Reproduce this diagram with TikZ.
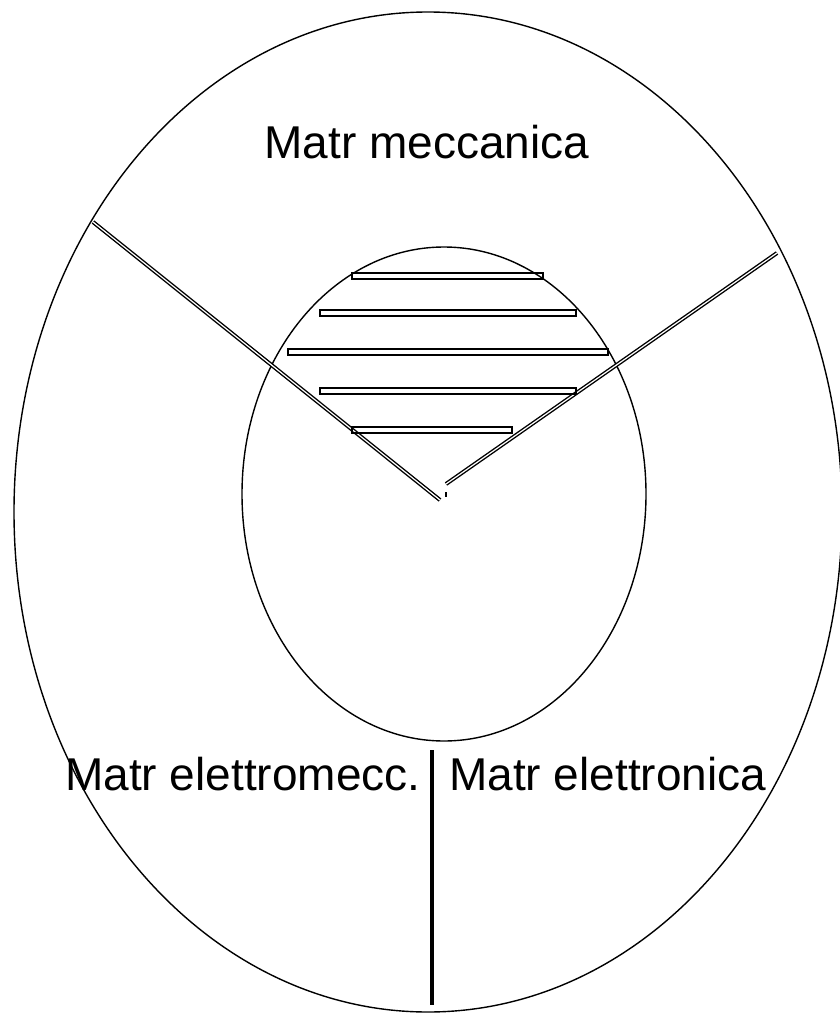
\documentclass[tikz,border=0pt]{standalone}
\usepackage{fontspec}
\setmainfont{Liberation Sans}
\begin{document}
\begin{tikzpicture}[x=1pt,y=-1pt,
  outline/.style={line width=1.4pt},
  dbl/.style={double, double distance=1.2pt, line width=1.4pt},
  hatchbar/.style={line width=2pt},
  divider/.style={line width=3.5pt},
  lbl/.style={inner sep=0pt, font=\fontsize{46}{50}\selectfont}]
\useasboundingbox (0,0) rectangle (839,1014);
% outer egg and inner region
\draw[outline] (428,512) ellipse [x radius=414pt, y radius=500pt];
\draw[outline] (444,494) ellipse [x radius=202pt, y radius=247pt];
% named end points of the separators
\coordinate (lo) at (93,222);
\coordinate (li) at (440,500);
\coordinate (ro) at (777,253);
\coordinate (ri) at (446,484);
\coordinate (vt) at (432,750);
\coordinate (vb) at (432,1005);
\coordinate (tk1) at (446,492);
\coordinate (tk2) at (446,497);
\draw[dbl] (lo) -- (li);
\draw[dbl] (ro) -- (ri);
\draw[line width=1.5pt] (tk1) -- (tk2);
\draw[divider] (vt) -- (vb);
% hatching bars
\draw[hatchbar] (352,273) rectangle (543,278.5);
\draw[hatchbar] (320,310) rectangle (576,315.5);
\draw[hatchbar] (288,349) rectangle (608,354.5);
\draw[hatchbar] (320,388) rectangle (576,393.5);
\draw[hatchbar] (352,427) rectangle (512,432.5);
% labels
\node[lbl, anchor=base] (mecc) at (427,158) {Matr meccanica};
\node[lbl, anchor=base west] (elmecc) at (65,790) {Matr elettromecc.};
\node[lbl, anchor=base west] (elettr) at (449,790) {Matr elettronica};
\end{tikzpicture}
\end{document}
